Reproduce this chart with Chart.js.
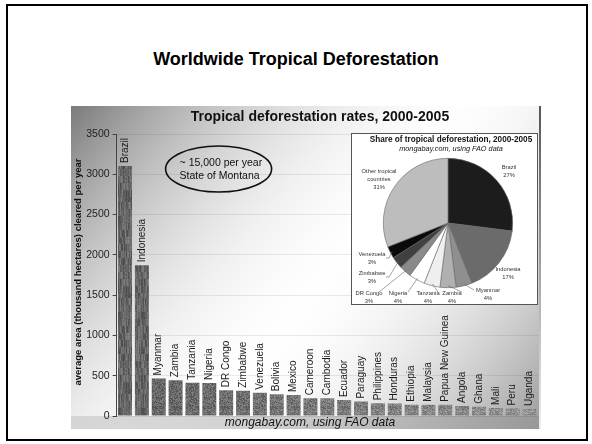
<!DOCTYPE html>
<html>
<head>
<meta charset="utf-8">
<script src="https://cdn.jsdelivr.net/npm/chart.js@4.4.1/dist/chart.umd.min.js"></script>
<style>
  html, body { margin: 0; padding: 0; background: #fff; }
  body { width: 592px; height: 444px; position: relative; overflow: hidden; font-family: "Liberation Sans", Arial, sans-serif; }
  #frame { position: absolute; left: 6px; top: 4px; width: 582px; height: 437px; border: 2.5px solid #000; box-sizing: border-box; }
  #heading { position: absolute; left: 0; top: 49px; width: 592px; text-align: center; font: bold 18px "Liberation Sans", Arial, sans-serif; color: #000; }
  #barWrap { position: absolute; left: 71px; top: 106px; width: 470px; height: 323px; }
  #pieWrap { position: absolute; left: 351px; top: 133px; width: 187px; height: 172px; background: #fff; border: 1px solid #555; box-sizing: border-box; }
</style>
</head>
<body>
<div id="frame"></div>
<div id="heading">Worldwide Tropical Deforestation</div>
<div id="barWrap"><canvas id="bars" width="470" height="323"></canvas></div>
<div id="pieWrap"><canvas id="pie" width="185" height="170"></canvas></div>
<script>
// Annual forest loss 2000-2005, thousand hectares per year
const countries = ["Brazil", "Indonesia", "Myanmar", "Zambia", "Tanzania", "Nigeria", "DR Congo",
  "Zimbabwe", "Venezuela", "Bolivia", "Mexico", "Cameroon", "Cambodia", "Ecuador", "Paraguay",
  "Philippines", "Honduras", "Ethiopia", "Malaysia", "Papua New Guinea", "Angola", "Ghana",
  "Mali", "Peru", "Uganda"];
const clearedPerYear = [3103, 1871, 466, 445, 412, 410, 319, 313, 288, 270, 260, 220, 219, 198,
  179, 157, 156, 141, 140, 139, 125, 115, 100, 94, 86];
const yTicks = [0, 500, 1000, 1500, 2000, 2500, 3000, 3500];

// Share of tropical deforestation, percent
const shareNames = ["Brazil", "Indonesia", "Myanmar", "Zambia", "Tanzania", "Nigeria",
  "DR Congo", "Zimbabwe", "Venezuela", "Other tropical countries"];
const sharePct = [27, 17, 4, 4, 4, 4, 3, 3, 3, 31];

const FONT = '"Liberation Sans", Arial, sans-serif';

// deterministic grain for the bar texture
function grain(x, y) {
  const n = Math.sin(x * 12.9898 + y * 78.233) * 43758.5453;
  return n - Math.floor(n);
}
function makeTexture(ctx, base, streaky) {
  const c = document.createElement('canvas');
  c.width = 24; c.height = 96;
  const g = c.getContext('2d');
  const img = g.createImageData(c.width, c.height);
  for (let y = 0; y < c.height; y++) {
    for (let x = 0; x < c.width; x++) {
      let v;
      if (streaky) {
        v = base + (grain(x, Math.floor(y / 7)) - 0.5) * 46 + (grain(x + 31, y) - 0.5) * 18;
      } else {
        v = base + (grain(x, y) - 0.5) * 56;
      }
      v = Math.max(0, Math.min(255, v));
      const i = (y * c.width + x) * 4;
      img.data[i] = img.data[i + 1] = img.data[i + 2] = v;
      img.data[i + 3] = 255;
    }
  }
  g.putImageData(img, 0, 0);
  return ctx.createPattern(c, 'repeat');
}

const barCanvas = document.getElementById('bars');
const bctx = barCanvas.getContext('2d');
const barFills = countries.map((_, i) => i < 2
  ? makeTexture(bctx, 102, true)
  : makeTexture(bctx, 98 + i * 1.9, false));

const decor = {
  id: 'decor',
  beforeDraw(chart) {
    const { ctx, width: w, height: h } = chart;
    ctx.save();
    ctx.fillStyle = '#fff';
    ctx.fillRect(0, 0, w, h);
    let g = ctx.createLinearGradient(0, 0, 250, 210);
    g.addColorStop(0, '#7a7a7a');
    g.addColorStop(1, 'rgba(255,255,255,0)');
    ctx.fillStyle = g;
    ctx.fillRect(0, 0, w, h);
    g = ctx.createLinearGradient(w, h, w - 230, h - 170);
    g.addColorStop(0, '#9a9a9a');
    g.addColorStop(1, 'rgba(255,255,255,0)');
    ctx.fillStyle = g;
    ctx.fillRect(0, 0, w, h);
    // bottom caption strip
    g = ctx.createLinearGradient(0, 0, w, 0);
    g.addColorStop(0, 'rgba(190,190,190,0.5)');
    g.addColorStop(1, 'rgba(150,150,150,0.7)');
    ctx.fillStyle = g;
    ctx.fillRect(0, chart.chartArea.bottom, w, h - chart.chartArea.bottom);
    // right edge rule
    g = ctx.createLinearGradient(0, 0, 0, h);
    g.addColorStop(0, '#555');
    g.addColorStop(1, '#eee');
    ctx.fillStyle = g;
    ctx.fillRect(w - 2, 0, 2, h);
    ctx.restore();
  },
  afterDatasetsDraw(chart) {
    const { ctx, chartArea: a } = chart;
    const meta = chart.getDatasetMeta(0);
    ctx.save();
    // country names above bars
    ctx.fillStyle = '#1a1a1a';
    ctx.font = '10px ' + FONT;
    ctx.textAlign = 'left';
    ctx.textBaseline = 'middle';
    meta.data.forEach((bar, i) => {
      ctx.save();
      ctx.translate(bar.x, bar.y - 3);
      ctx.rotate(-Math.PI / 2);
      ctx.fillText(countries[i], 0, 0);
      ctx.restore();
    });
    // chart title
    ctx.fillStyle = '#111';
    ctx.font = 'bold 14px ' + FONT;
    ctx.textAlign = 'center';
    ctx.fillText('Tropical deforestation rates, 2000-2005', 249, 11);
    // y axis title
    ctx.save();
    ctx.translate(7, (a.top + a.bottom) / 2 - 3);
    ctx.rotate(-Math.PI / 2);
    ctx.font = 'bold 9.5px ' + FONT;
    ctx.fillText('average area (thousand hectares) cleared per year', 0, 0);
    ctx.restore();
    // source caption
    ctx.font = 'italic 12px ' + FONT;
    ctx.fillStyle = '#111';
    ctx.fillText('mongabay.com, using FAO data', 239, a.bottom + 7);
    // Montana comparison note
    ctx.beginPath();
    ctx.ellipse(a.left + 102, a.top + 35, 53, 23, 0, 0, Math.PI * 2);
    ctx.lineWidth = 1.6;
    ctx.strokeStyle = '#111';
    ctx.stroke();
    ctx.font = '10.5px ' + FONT;
    ctx.textAlign = 'left';
    ctx.fillText('~ 15,000 per year', a.left + 63, a.top + 29);
    ctx.fillText('State of Montana', a.left + 63, a.top + 42);
    ctx.restore();
  }
};

new Chart(barCanvas, {
  type: 'bar',
  data: {
    labels: countries,
    datasets: [{
      data: clearedPerYear,
      backgroundColor: barFills,
      borderWidth: 0,
      barPercentage: 0.83,
      categoryPercentage: 1
    }]
  },
  options: {
    responsive: false,
    animation: false,
    events: [],
    layout: { padding: { top: 28, bottom: 13, left: 0, right: 3 } },
    plugins: { legend: { display: false }, tooltip: { enabled: false }, title: { display: false } },
    scales: {
      x: { display: false },
      y: {
        min: 0, max: 3500,
        afterBuildTicks(scale) { scale.ticks = yTicks.map(v => ({ value: v })); },
        afterFit(scale) { scale.width = 45.6; },
        ticks: { color: '#222', font: { size: 10.5, family: FONT }, padding: 3, callback: v => String(v) },
        grid: { color: 'rgba(0,0,0,0.08)', tickColor: '#444', tickLength: 4 },
        border: { display: true, color: '#444', width: 1 }
      }
    }
  },
  plugins: [decor]
});

// Inset pie: label anchor points (box coordinates) for each slice
const labelPos = [[157, 33], [156, 135], [136, 156], [100, 159], [76, 159], [46, 159],
  [17, 159], [20, 139], [20, 120], [27, 37]];
const pieColors = ['#1c1c1c', '#6b6b6b', '#8f8f8f', '#b0b0b0', '#efefef', '#ffffff',
  '#8a8a8a', '#404040', '#0a0a0a', '#bdbdbd'];

const pieDecor = {
  id: 'pieDecor',
  afterDatasetsDraw(chart) {
    const { ctx } = chart;
    const meta = chart.getDatasetMeta(0);
    ctx.save();
    ctx.fillStyle = '#111';
    ctx.textAlign = 'center';
    ctx.textBaseline = 'middle';
    ctx.font = 'bold 8.2px ' + FONT;
    ctx.fillText('Share of tropical deforestation, 2000-2005', 99, 6);
    ctx.font = 'italic 7.3px ' + FONT;
    ctx.fillText('mongabay.com, using FAO data', 99, 15);
    ctx.font = '5.8px ' + FONT;
    ctx.fillStyle = '#333';
    ctx.strokeStyle = '#666';
    ctx.lineWidth = 0.6;
    meta.data.forEach((arc, i) => {
      const [lx, ly] = labelPos[i];
      let lines;
      if (i === 9) lines = ['Other tropical', 'countries', sharePct[i] + '%'];
      else lines = [shareNames[i], sharePct[i] + '%'];
      lines.forEach((t, k) => ctx.fillText(t, lx, ly + k * 8));
      if (i >= 2 && i <= 8) {
        const mid = (arc.startAngle + arc.endAngle) / 2;
        const ex = arc.x + Math.cos(mid) * arc.outerRadius * 0.97;
        const ey = arc.y + Math.sin(mid) * arc.outerRadius * 0.97;
        let sx, sy;
        if (i === 2) { sx = lx - 14; sy = ly; }
        else if (i >= 7) { sx = lx + 14; sy = ly + 4; }
        else { sx = lx + 10; sy = ly - 1; }
        ctx.beginPath();
        ctx.moveTo(sx, sy);
        ctx.lineTo(sx + (i >= 7 ? 3 : 0), sy);
        ctx.lineTo(ex, ey);
        ctx.stroke();
      }
    });
    ctx.restore();
  }
};

new Chart(document.getElementById('pie'), {
  type: 'pie',
  data: {
    labels: shareNames,
    datasets: [{ data: sharePct, backgroundColor: pieColors, borderColor: '#666', borderWidth: 0.6 }]
  },
  options: {
    responsive: false,
    animation: false,
    events: [],
    layout: { padding: { left: 31, right: 24, top: 24, bottom: 16 } },
    plugins: { legend: { display: false }, tooltip: { enabled: false } }
  },
  plugins: [pieDecor]
});
</script>
</body>
</html>
